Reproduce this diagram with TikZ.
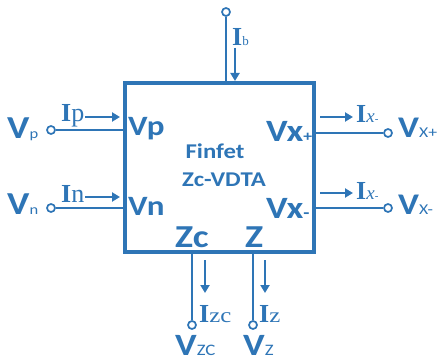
\documentclass[tikz,border=0pt]{standalone}
\usepackage{fontspec}
\setmainfont{Liberation Serif}
\newfontfamily\pinfont{Carlito}
\usepackage{graphicx}
\usetikzlibrary{arrows.meta}
\definecolor{vb}{HTML}{2E75B6}
\newcommand\fs[1]{\fontsize{#1}{#1}\selectfont}
\newcommand\hw[1]{\scalebox{1.18}[1]{#1}}
\begin{document}
\begin{tikzpicture}[x=1pt,y=-1pt,
  box/.style={draw=vb, line width=3.2pt, minimum width=189pt, minimum height=169pt, inner sep=0pt},
  wire/.style={draw=vb, line width=2.8pt},
  term/.style={circle, draw=vb, fill=white, line width=1.7pt, minimum size=8pt, inner sep=0pt},
  cur/.style={draw=vb, line width=2.8pt, -{Triangle[length=8pt,width=9pt]}},
  lab/.style={text=vb, inner sep=0pt, anchor=base west},
  ctr/.style={text=vb, inner sep=0pt},
]
\useasboundingbox (0,0) rectangle (438,363);

\node[box] (B) at (219.5,167.5) {};

% terminals
\node[term] (tb) at (226,12) {};
\node[term] (tp) at (51,130) {};
\node[term] (tn) at (51,208) {};
\node[term] (txp) at (388,133) {};
\node[term] (txn) at (388,208) {};
\node[term] (tzc) at (192,325) {};
\node[term] (tz) at (253,325) {};

\draw[wire] (tb) -- (tb |- B.north);
\draw[wire] (tp) -- (tp -| B.west);
\draw[wire] (tn) -- (tn -| B.west);
\draw[wire] (txp) -- (txp -| B.east);
\draw[wire] (txn) -- (txn -| B.east);
\draw[wire] (tzc) -- (tzc |- B.south);
\draw[wire] (tz) -- (tz |- B.south);

% current arrows
\coordinate (ib1) at (235,48);  \coordinate (ib2) at (235,81);
\coordinate (ip1) at (85,117);  \coordinate (ip2) at (120,117);
\coordinate (in1) at (85,197);  \coordinate (in2) at (120,197);
\coordinate (ix1) at (320,117); \coordinate (ix2) at (353,117);
\coordinate (iy1) at (320,193); \coordinate (iy2) at (353,193);
\coordinate (iz1) at (205,260); \coordinate (iz2) at (205,293);
\coordinate (iw1) at (265,260); \coordinate (iw2) at (265,293);
\draw[cur] (ib1) -- (ib2);
\draw[cur] (ip1) -- (ip2);
\draw[cur] (in1) -- (in2);
\draw[cur] (ix1) -- (ix2);
\draw[cur] (iy1) -- (iy2);
\draw[cur] (iz1) -- (iz2);
\draw[cur] (iw1) -- (iw2);

% inner pin labels
\node[lab] (lvp) at (128,136) {\pinfont\bfseries\fs{28}\hw{Vp}};
\node[lab] (lvn) at (128,215) {\pinfont\bfseries\fs{28}\hw{Vn}};
\node[lab] (lvxp) at (266,142) {\pinfont\bfseries\hw{\fs{31}Vx\fs{15}+}};
\node[lab] (lvxn) at (266,218) {\pinfont\bfseries\hw{\fs{31}Vx\fs{17}-}};
\node[lab] (lzc) at (175,247) {\pinfont\bfseries\fs{32}\hw{Zc}};
\node[lab] (lz) at (245,247) {\pinfont\bfseries\fs{32}\hw{Z}};

% outer terminal labels
\node[lab] (ovp) at (7,139) {\pinfont\hw{\bfseries\fs{32}V\mdseries\fs{14}p}};
\node[lab] (ovn) at (7,214) {\pinfont\hw{\bfseries\fs{32}V\mdseries\fs{14}n}};
\node[lab] (ovxp) at (398,138) {\pinfont\hw{\bfseries\fs{30}V\mdseries\fs{15}X+}};
\node[lab] (ovxn) at (398,214) {\pinfont\hw{\bfseries\fs{30}V\mdseries\fs{15}X-}};
\node[lab] (ovzc) at (175,355) {\pinfont\hw{\bfseries\fs{31}V\mdseries\fs{16}ZC}};
\node[lab] (ovz) at (243,355) {\pinfont\hw{\bfseries\fs{31}V\mdseries\fs{16}Z}};

% current labels
\node[lab] (lib) at (232,46) {\bfseries\fs{26}I\mdseries\fs{13}b};
\node[lab] (lip) at (61,122) {\bfseries\fs{26}I\mdseries p};
\node[lab] (lin) at (61,202) {\bfseries\fs{26}I\mdseries n};
\node[lab] (lixp) at (356,123) {\bfseries\fs{26}I\mdseries\fs{19}\textit{x}\fs{11}-};
\node[lab] (lixn) at (356,199) {\bfseries\fs{26}I\mdseries\fs{19}\textit{x}\fs{11}-};
\node[lab] (lizc) at (199,322) {\bfseries\fs{26}I\mdseries\hw{\fs{21}zc}};
\node[lab] (liz) at (259,322) {\bfseries\fs{26}I\mdseries\hw{\fs{21}z}};

% title
\node[ctr] (f1) at (215,151) {\pinfont\bfseries\fs{21}\hw{Finfet}};
\node[ctr] (f2) at (224,180) {\pinfont\bfseries\fs{21}\hw{Zc-VDTA}};
\end{tikzpicture}
\end{document}
